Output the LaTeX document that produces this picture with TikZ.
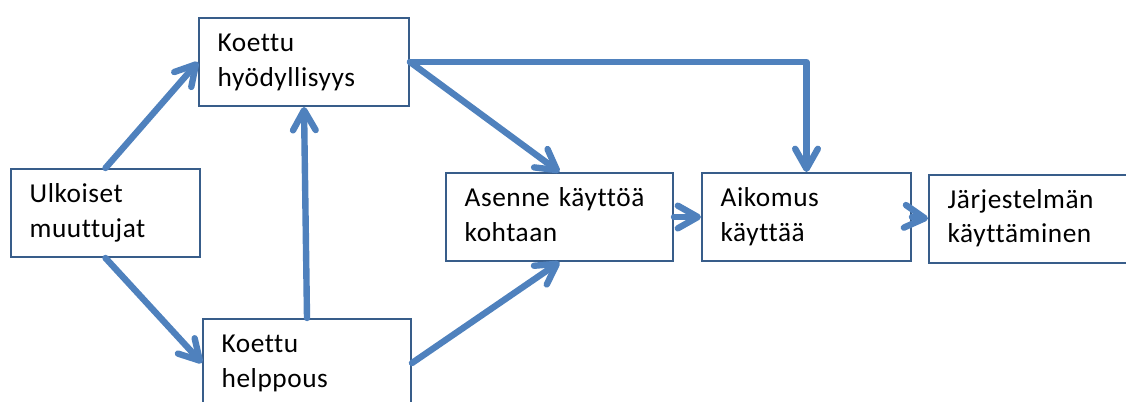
\documentclass[tikz,border=0pt]{standalone}
\usepackage{fontspec}
\setmainfont{Carlito}[Ligatures=NoCommon, LetterSpace=2]
\usetikzlibrary{arrows.meta}
\definecolor{arrc}{HTML}{4F81BD}
\definecolor{bordc}{HTML}{385D8A}
\newcommand{\twol}[2]{\begin{tabular}{@{}l@{}}#1\\#2\end{tabular}}
\tikzset{
  box/.style={draw=bordc, line width=1.5pt, fill=white, rectangle,
    inner xsep=14pt, inner ysep=0pt, minimum height=66pt,
    align=left, font=\fontsize{20.5pt}{26pt}\selectfont, text=black},
  arr/.style={draw=arrc, line width=4.8pt, line cap=round, line join=round,
    -{Straight Barb[length=15pt, width=17pt, round]}}
}
\begin{document}
\begin{tikzpicture}[x=0.75pt, y=-0.75pt]
\useasboundingbox (0,0) rectangle (1126,401);
\clip (0,0) rectangle (1126,401);
\node[box, minimum width=157.5pt, text width=129.5pt] (hy) at (304,62) {\twol{Koettu}{hyödyllisyys}};
\node[box, minimum width=141.75pt, text width=113.75pt] (ul) at (105.5,213) {\twol{Ulkoiset}{muuttujat}};
\node[box, minimum width=156pt, text width=128pt] (he) at (307,363) {\twol{Koettu}{helppous}};
\node[box, minimum width=170.25pt, text width=142.25pt] (as) at (559.5,217) {\twol{Asenne käyttöä}{kohtaan}};
\node[box, minimum width=156.75pt, text width=128.75pt] (ai) at (806.5,217) {\twol{Aikomus}{käyttää}};
\node[box, minimum width=157.5pt, text width=129.5pt] (ja) at (1034,218.5) {\twol{Järjestelmän}{käyttäminen}};
\draw[arr] (ul.north) -- (hy.west);
\draw[arr] (ul.south) -- (he.west);
\draw[arr] (he.north) -- (hy.south);
\draw[arr] (hy.east) -- (as.north);
\draw[arr] (hy.east) -| (ai.north);
\draw[arr] (he.east) -- (as.south);
\draw[arr] (as.east) -- (ai.west);
\draw[arr] (ai.east) -- (ja.west);
\end{tikzpicture}
\end{document}
